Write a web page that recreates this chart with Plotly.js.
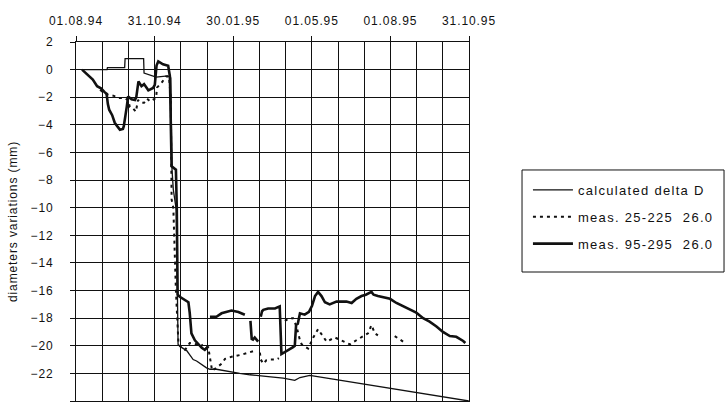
<!DOCTYPE html>
<html>
<head>
<meta charset="utf-8">
<script src="https://cdn.plot.ly/plotly-3.0.1.min.js"></script>
<style>
html,body{margin:0;padding:0;background:#fff;}
#chart{width:725px;height:405px;}
svg text{letter-spacing:0.9px;}
.legend text{letter-spacing:1.3px;}
</style>
</head>
<body>
<div id="chart"></div>
<script>
// x values: days since 01.08.94
var tickDays = [0, 91.25, 182.5, 273.75, 365, 456.25];
var tickLabels = ['01.08.94', '31.10.94', '30.01.95', '01.05.95', '01.08.95', '31.10.95'];
var seriesNames = ['calculated delta D', 'meas. 25-225\u00a0\u00a026.0', 'meas. 95-295\u00a0\u00a026.0'];

var calcDays = [7, 36, 36.5, 56.5, 57, 78.5, 79, 93, 106.5, 110, 111.5, 113, 116.5, 118.5, 122, 128.5, 136, 140, 151.5, 155.5, 163, 175, 190, 202, 213.5, 226, 240.5, 254, 260, 271.5, 456];
var calcVals = [0, 0, 0.15, 0.15, 0.8, 0.8, -0.25, -0.55, -0.45, -0.6, -7.3, -8.7, -10.2, -19.9, -20.1, -20.35, -21.0, -21.1, -21.6, -21.7, -21.7, -21.85, -22.0, -22.1, -22.15, -22.25, -22.35, -22.5, -22.3, -22.15, -24.0];

var m25Days = [28, 32.5, 37, 44, 48.5, 55.5, 60.5, 62.5, 66, 69.5, 72, 75.5, 79, 82.5, 86, 89.5, 93, 94, 100, 104.5, 108, 109, 110, 111, 113, 116, 119, 122, 126.5, 130, 132, 140, 144, 147.5, 151, 153.5, 155.5, 158, 163, 169, 173, 180.5, 192, 200, 205.5, 209, 213.5, 214.5, 217.5, 221, 225, 233, 235.5, 239, 242.5, 248, 252, 256, 260, 262, 269.5, 275.5, 281, 285, 291, 300.5, 310, 318, 325.5, 333.5, 339, 343, 347, 350.5, 360, 370, 377, 383.5];
var m25Vals = [-1.45, -1.7, -1.8, -1.9, -2.05, -2.05, -2.2, -2.7, -2.8, -3.05, -2.2, -2.4, -2.4, -2.1, -2.3, -2.2, -2.05, -1.3, -0.9, -0.5, -0.5, -1.3, -2.0, -9.4, -10.0, -16.0, -19.9, -20.1, -20.3, -20.0, -19.8, -19.9, -20.1, -19.9, -20.1, -20.1, -21.0, -21.8, -21.6, -21.3, -20.95, -20.8, -20.65, -20.5, -20.4, null, -20.5, -21.0, -21.3, -21.05, -21.0, -21.0, -20.9, null, -18.2, -18.0, -18.0, -18.6, -19.6, -19.9, -20.2, -19.4, -18.8, -19.2, -19.7, -19.4, -19.7, -19.9, -19.6, -19.3, -19.1, -18.5, -19.1, -19.25, null, -19.3, -19.6, -19.85];

var m95Days = [7, 19.5, 24.5, 29, 33.5, 35.5, 37, 38.5, 42, 45, 48.5, 51, 54.5, 55.5, 59, 60.5, 64.5, 68.5, 70, 72.5, 76, 79, 84, 89.5, 91.5, 93.5, 95.5, 101, 107, 109, 111, 116, 117, 118, 120.5, 126.5, 130.5, 132, 134, 138, 142, 146, 149.5, 151.5, 153.5, 154.5, 155.5, 163, 169, 175, 180.5, 188.5, 196, 199, 202.5, 204, 205.5, 207.5, 211.5, 213, 214.5, 216, 217.5, 223, 231, 236.5, 238.5, 244.5, 252, 254, 255.5, 257.5, 260, 265.5, 270.5, 274, 277.5, 281, 285, 289, 294.5, 302.5, 314, 320, 325.5, 331.5, 336.5, 343, 345.5, 350.5, 358.5, 364.5, 372, 381.5, 387.5, 395, 403, 410.5, 418.5, 426, 434, 441.5, 449.5, 452];
var m95Vals = [0, -0.72, -1.2, -1.35, -1.65, -1.75, -2.5, -2.9, -3.3, -3.85, -4.15, -4.35, -4.3, -4.1, -2.66, -1.95, -2.15, -2.2, -2.0, -0.85, -1.2, -1.05, -1.5, -1.33, -1.1, 0.3, 0.6, 0.38, 0.28, -0.48, -7.0, -7.25, -10.0, -16.3, -16.45, -16.7, -16.85, -17.6, -19.1, -19.6, -19.9, -20.15, -20.3, -20.2, -20.05, null, -17.9, -17.9, -17.65, -17.55, -17.45, -17.55, -17.75, null, -18.2, -19.5, -19.55, -19.4, -19.7, null, -17.9, -17.5, -17.4, -17.3, -17.3, -17.15, -20.6, -20.4, -20.1, -20.0, -18.5, -18.4, -17.65, -17.75, -17.55, -17.1, -16.4, -16.1, -16.4, -16.85, -17.0, -16.8, -16.8, -16.9, -16.6, -16.4, -16.3, -16.1, -16.3, -16.4, -16.5, -16.6, -16.9, -17.2, -17.35, -17.6, -18.0, -18.25, -18.6, -19.0, -19.3, -19.35, -19.65, -19.8];

var traces = [
  {x: calcDays, y: calcVals, name: seriesNames[0], legendgroup: 'a', type: 'scatter', mode: 'lines',
   line: {color: '#111', width: 1.3}},
  {x: m25Days, y: m25Vals, name: seriesNames[1], legendgroup: 'b', type: 'scatter', mode: 'lines',
   line: {color: '#111', width: 2, dash: '3px,4px'}},
  {x: m95Days, y: m95Vals, name: seriesNames[2], legendgroup: 'c', type: 'scatter', mode: 'lines',
   line: {color: '#111', width: 2.6}}
];

var font = {family: 'Arial, "Liberation Sans", sans-serif', size: 12, color: '#111'};
var legendFont = {family: 'Arial, "Liberation Sans", sans-serif', size: 13, color: '#111'};

var layout = {
  width: 725, height: 405,
  margin: {l: 76, r: 256, t: 42, b: 4, pad: 0},
  paper_bgcolor: '#fff', plot_bgcolor: '#fff',
  font: font,
  showlegend: true,
  legend: {x: 1.150, y: 0.630, xanchor: 'left', yanchor: 'top',
           borderwidth: 0, bgcolor: 'rgba(0,0,0,0)',
           font: legendFont, itemwidth: 40, tracegroupgap: 7, traceorder: 'grouped'},
  shapes: [
    {type: 'rect', xref: 'paper', yref: 'paper', x0: 1.1349, x1: 1.6489, y0: 0.3593, y1: 0.6435,
     line: {color: '#111', width: 1}, fillcolor: 'rgba(0,0,0,0)', layer: 'above'}
  ],
  xaxis: {
    side: 'top', range: [0, 456.25], tickmode: 'array', tickvals: tickDays, ticktext: tickLabels,
    ticks: 'outside', ticklen: 5, tickcolor: '#111', tickwidth: 1,
    showgrid: true, gridcolor: '#111', gridwidth: 1,
    minor: {tick0: 0, dtick: 456.25 / 15, showgrid: true, gridcolor: '#111', gridwidth: 1, ticks: ''},
    showline: true, mirror: true, linecolor: '#111', linewidth: 1,
    zeroline: false, ticklabelstandoff: 6, fixedrange: true
  },
  yaxis: {
    range: [-24, 2], dtick: 2, tick0: 0,
    ticks: 'outside', ticklen: 5, tickcolor: '#111', tickwidth: 1,
    showgrid: true, gridcolor: '#111', gridwidth: 1,
    showline: true, mirror: true, linecolor: '#111', linewidth: 1,
    zeroline: false, ticklabelstandoff: 14,
    title: {text: 'diameters variations (mm)', font: font, standoff: 10},
    automargin: false, fixedrange: true
  }
};

Plotly.newPlot('chart', traces, layout, {staticPlot: true, displayModeBar: false});
</script>
</body>
</html>
